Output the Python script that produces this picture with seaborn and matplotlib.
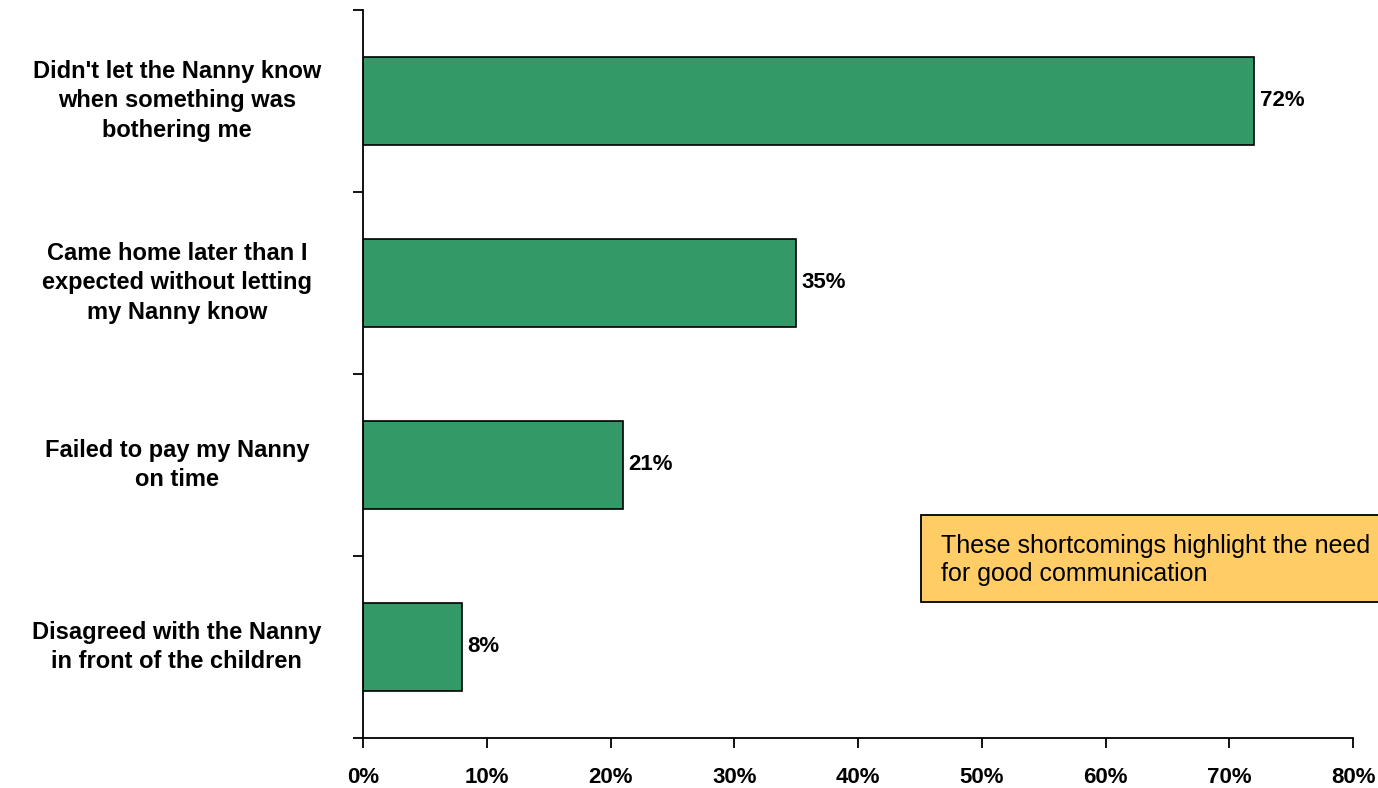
import matplotlib
matplotlib.use("Agg")
import matplotlib.pyplot as plt
import seaborn as sns
import pandas as pd
from matplotlib.patches import Rectangle

categories = [
    "Didn't let the Nanny know\nwhen something was\nbothering me",
    "Came home later than I\nexpected without letting\nmy Nanny know",
    "Failed to pay my Nanny\non time",
    "Disagreed with the Nanny\nin front of the children",
]
values = [72, 35, 21, 8]
xticks = [0, 10, 20, 30, 40, 50, 60, 70, 80]
xtick_labels = [f"{v}%" for v in xticks]
note = "These shortcomings highlight the need\nfor good communication"

sns.set_theme(style="white")
plt.rcParams['font.family'] = ['Liberation Sans', 'DejaVu Sans']
plt.rcParams['text.color'] = 'black'
plt.rcParams['xtick.color'] = 'black'
plt.rcParams['ytick.color'] = 'black'

df = pd.DataFrame({"cat": categories, "val": values})

fig = plt.figure(figsize=(13.78, 7.88), dpi=100)
ax = fig.add_axes([363/1378, 1 - 738/788, (1353 - 363)/1378, (738 - 10)/788])

sns.barplot(data=df, x="val", y="cat", orient="h", color="#339966", saturation=1,
            edgecolor="black", linewidth=1.2, width=0.48, ax=ax)

ax.set_xlim(0, 80)
ax.set_ylim(3.5, -0.5)
ax.set_xticks(xticks)
ax.set_xticklabels(xtick_labels, fontsize=16, fontweight="bold")
ax.set_yticks([-0.5, 0.5, 1.5, 2.5, 3.5])
ax.set_yticklabels([])
ax.set_xlabel("")
ax.set_ylabel("")
for s in ["top", "right"]:
    ax.spines[s].set_visible(False)
for s in ["left", "bottom"]:
    ax.spines[s].set_color("black")
    ax.spines[s].set_linewidth(1.3)
ax.tick_params(axis="x", direction="out", length=7, width=1.3, color="black", pad=14, bottom=True)
ax.tick_params(axis="y", direction="out", length=7, width=1.3, color="black", left=True)

# category labels
for i, c in enumerate(categories):
    ax.annotate(c, xy=(0, i), xycoords=("axes fraction", "data"),
                xytext=(-134, 0), textcoords="offset points",
                ha="center", va="center", multialignment="center",
                fontsize=17, fontweight="bold", linespacing=1.35, annotation_clip=False)

for i, v in enumerate(values):
    ax.annotate(f"{v}%", xy=(v, i), xytext=(4, 0), textcoords="offset points",
                ha="left", va="center", fontsize=16, fontweight="bold")

# note box (extends to figure edge)
rect = Rectangle((921/1378, 1 - 602/788), 500/1378, 87/788, transform=fig.transFigure,
                 facecolor="#FFCC66", edgecolor="black", linewidth=1.3)
fig.patches.append(rect)
fig.text(941/1378, 1 - 560/788, note, ha="left", va="center", fontsize=18,
         linespacing=1.25)

fig.savefig("out.png", dpi=100)
